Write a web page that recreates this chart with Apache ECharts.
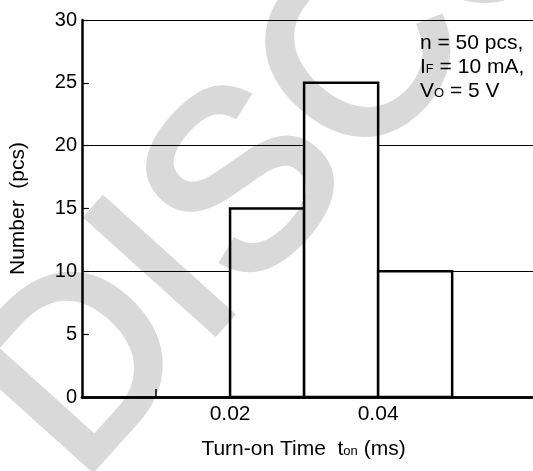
<!DOCTYPE html>
<html><head><meta charset="utf-8">
<script src="https://cdn.jsdelivr.net/npm/echarts@6/dist/echarts.min.js"></script>
<style>
html,body{margin:0;padding:0;background:#fff}
#wrap{position:relative;width:533px;height:471px;isolation:isolate;background:#fff}
#wm,#c{position:absolute;left:0;top:0;width:533px;height:471px}
#c{mix-blend-mode:multiply}
</style>
</head><body><div id="wrap"><div id="wm"></div><div id="c"></div></div>
<script>
// Histogram data
const binStart = [0.02, 0.03, 0.04];
const binEnd = [0.03, 0.04, 0.05];
const counts = [15, 25, 10];
const xTickValues = [0.01, 0.02, 0.03, 0.04, 0.05];
const xTickLabels = ['0.02', '0.04'];
const yTickLabels = ['0', '5', '10', '15', '20', '25', '30'];
const noteLines = ['n = 50 pcs,', 'I{sub|F} = 10 mA,', 'V{sub|O} = 5 V'];
const xTitle = 'Turn-on Time  t{sub|on} (ms)';
const yTitle = 'Number  (pcs)';
const watermark = 'DISCONTINUED';

const FONT = "'Liberation Sans', Arial, Helvetica, sans-serif";

// Watermark layer (behind the chart, chart is multiplied on top)
const wm = echarts.init(document.getElementById('wm'), null, {renderer: 'canvas'});
wm.setOption({
  animation: false,
  backgroundColor: '#fff',
  graphic: [{
    type: 'text', x: 121, y: 521, rotation: 0.838, silent: true,
    style: {
      text: watermark, fill: '#d9d9d9', stroke: '#d9d9d9', lineWidth: 7,
      fontSize: 250, fontWeight: 'normal', fontFamily: FONT,
      align: 'left', verticalAlign: 'bottom'
    }
  }]
});

const chart = echarts.init(document.getElementById('c'), null, {renderer: 'canvas'});
const histData = binStart.map((s, i) => [s, binEnd[i], counts[i]]);
const subStyle = {fontSize: 13, fontFamily: FONT, lineHeight: 13, verticalAlign: 'bottom', padding: [0, 0, 3, 0]};

chart.setOption({
  animation: false,
  backgroundColor: '#fff',
  grid: {left: 82, top: 20, bottom: 74, right: -8, outerBoundsMode: 'none', containLabel: false},
  xAxis: [{
    type: 'value', min: 0, max: 0.062, interval: 0.01, position: 'bottom',
    axisLine: {show: true, lineStyle: {color: '#000', width: 2.5}},
    axisTick: {show: true, inside: true, length: 8, customValues: xTickValues, lineStyle: {color: '#000', width: 1.5}},
    axisLabel: {
      margin: 7, color: '#000', fontSize: 21, fontFamily: FONT,
      formatter: v => { const s = v.toFixed(2); return xTickLabels.includes(s) ? s : ''; }
    },
    splitLine: {show: false},
    name: xTitle, nameLocation: 'middle', nameGap: 40,
    nameTextStyle: {color: '#000', fontSize: 21, fontFamily: FONT, lineHeight: 24, padding: [0, 16, 0, 0],
      rich: {sub: Object.assign({color: '#000'}, subStyle)}}
  }, {
    type: 'value', min: 0, max: 0.062, interval: 0.01, position: 'top',
    axisLine: {show: true, lineStyle: {color: '#000', width: 2.5}},
    axisTick: {show: false}, axisLabel: {show: false}, splitLine: {show: false}
  }],
  yAxis: [{
    type: 'value', min: 0, max: 30, interval: 5,
    axisLine: {show: true, lineStyle: {color: '#000', width: 2.5}},
    axisTick: {show: true, inside: true, length: 7, lineStyle: {color: '#000', width: 1.2}},
    axisLabel: {margin: 5, color: '#000', fontSize: 20, fontFamily: FONT,
      formatter: v => { const s = String(Math.round(v)); return yTickLabels.includes(s) ? s : ''; }},
    splitLine: {show: false},
    name: yTitle, nameLocation: 'middle', nameRotate: 90, nameGap: 53,
    nameTextStyle: {color: '#000', fontSize: 21, fontFamily: FONT}
  }, {
    type: 'value', min: 0, max: 30, interval: 10, position: 'left',
    axisLine: {show: false}, axisTick: {show: false}, axisLabel: {show: false},
    splitLine: {show: true, lineStyle: {color: '#000', width: 1}}
  }],
  series: [{
    type: 'custom',
    xAxisIndex: 0, yAxisIndex: 0,
    data: histData,
    encode: {x: [0, 1], y: 2},
    renderItem: function (params, api) {
      const p0 = api.coord([api.value(0), 0]);
      const p1 = api.coord([api.value(1), api.value(2)]);
      return {
        type: 'rect',
        shape: {x: p0[0], y: p1[1], width: p1[0] - p0[0], height: p0[1] - p1[1]},
        style: {fill: '#fff', stroke: '#000', lineWidth: 2.5}
      };
    }
  }],
  graphic: [{
    type: 'text', left: 420, top: 31, z: 50,
    style: {
      text: noteLines.join('\n'), fill: '#000', fontSize: 21, fontFamily: FONT, lineHeight: 24,
      rich: {sub: Object.assign({fill: '#000'}, subStyle)}
    }
  }]
});
</script>
</body></html>
